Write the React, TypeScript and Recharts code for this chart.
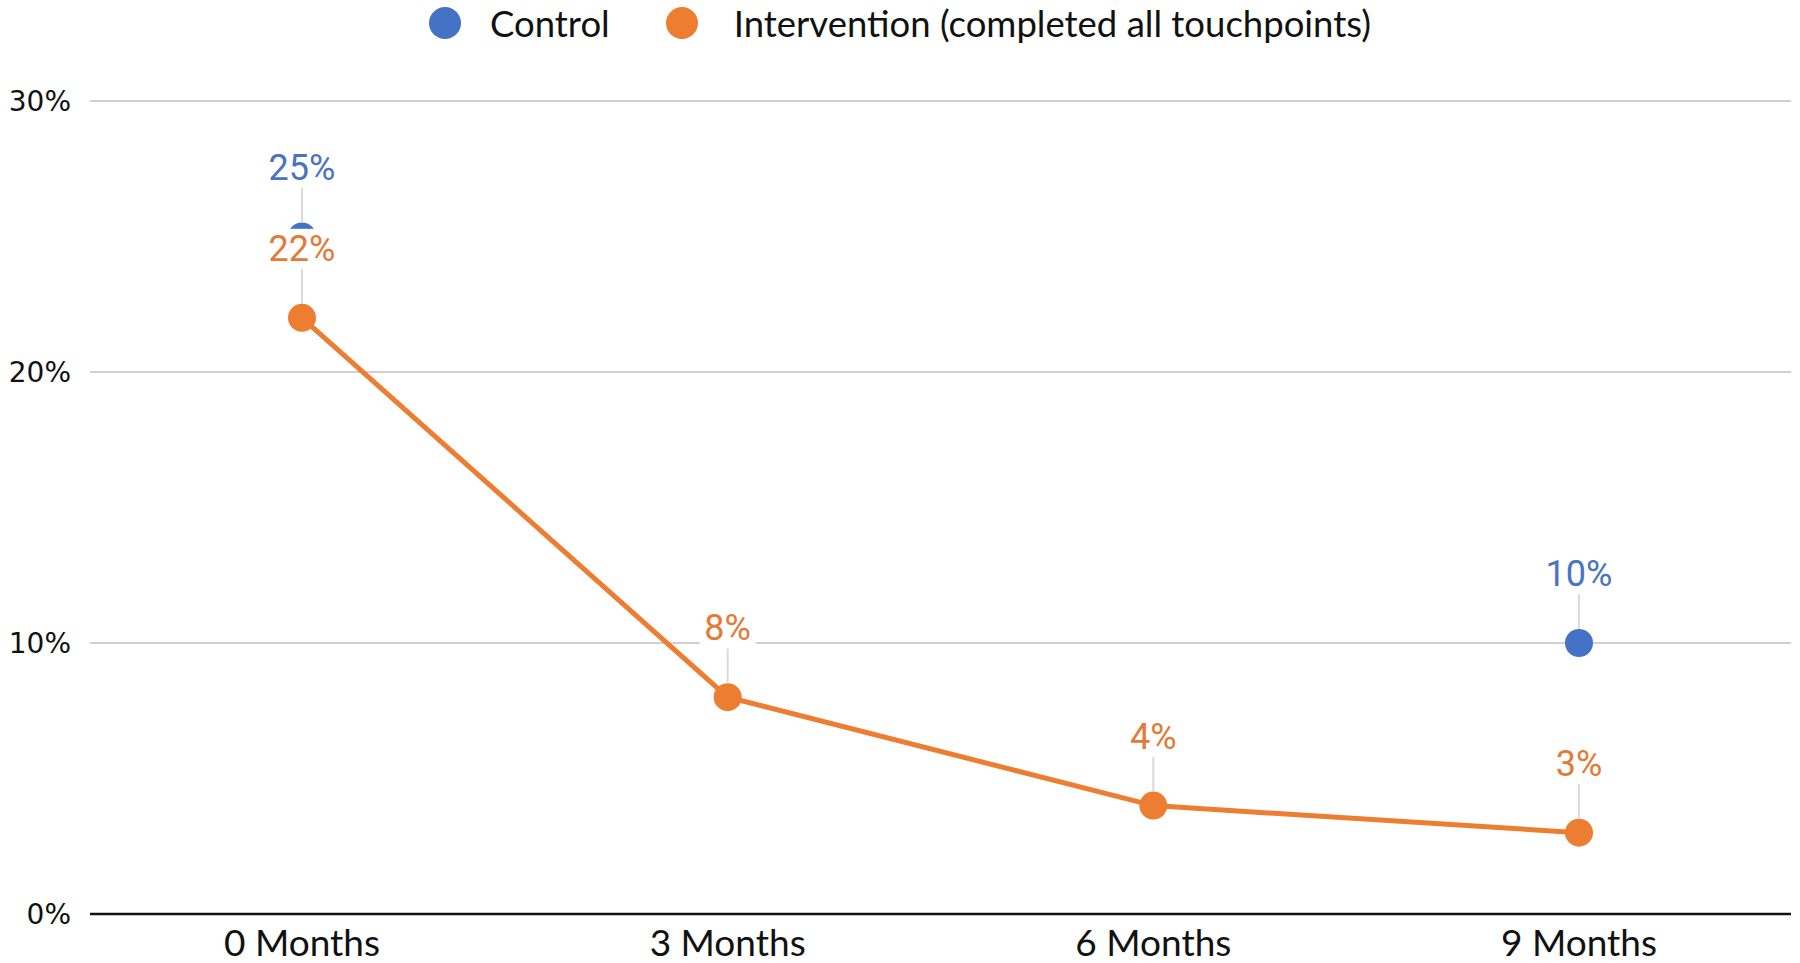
import { LineChart, Line, XAxis, YAxis, CartesianGrid, Legend, LabelList } from 'recharts';

const categories = ['0 Months', '3 Months', '6 Months', '9 Months'];
const controlValues = [25, null, null, 10];
const interventionValues = [22, 8, 4, 3];
const yTicks = [0, 10, 20, 30];

const BLUE = '#4472C4';
const ORANGE = '#ED7D31';

const data = categories.map((c, i) => ({
  month: c,
  control: controlValues[i],
  intervention: interventionValues[i],
}));

const makeLabel = (color: string) => (props: any) => {
  const { x, y, value } = props;
  if (value === null || value === undefined) return null;
  const ly = y - 69;
  const w = String(value).length * 20 + 36;
  return (
    <g>
      <line x1={x} x2={x} y1={ly + 20} y2={y - 14} stroke="#dadada" strokeWidth={2} />
      <rect x={x - w / 2} y={ly - 20} width={w} height={40} fill="#fff" />
      <text x={x} y={ly} textAnchor="middle" dominantBaseline="central" fill={color}
        fontFamily="Roboto, sans-serif" fontSize={36}>{value}%</text>
    </g>
  );
};

const LegendContent = () => (
  <div style={{ display: 'flex', justifyContent: 'center', alignItems: 'center', height: 46, fontFamily: 'Lato, sans-serif', fontSize: 36.5, color: '#111' }}>
    <span style={{ width: 32, height: 32, borderRadius: 16, background: BLUE, display: 'inline-block', marginRight: 29 }} />
    <span style={{ marginRight: 56 }}>Control</span>
    <span style={{ width: 32, height: 32, borderRadius: 16, background: ORANGE, display: 'inline-block', marginRight: 36 }} />
    <span>Intervention (completed all touchpoints)</span>
  </div>
);

export default function App() {
  return (
    <div style={{ position: 'absolute', left: 0, top: 0, background: '#fff' }}>
      <LineChart width={1800} height={963} data={data} margin={{ top: 55, right: 9, left: 0, bottom: 0 }}>
        <Legend verticalAlign="top" height={46} content={<LegendContent />} wrapperStyle={{ top: 0, left: 0, width: 1800 }} />
        <CartesianGrid vertical={false} stroke="#d0d0d0" strokeWidth={2} />
        <XAxis dataKey="month" height={49} padding={{ left: 212, right: 212 }} tickLine={false}
          axisLine={{ stroke: '#111', strokeWidth: 2.5 }} tickMargin={10}
          tick={{ fill: '#111', fontFamily: 'Lato, sans-serif', fontSize: 37 }} />
        <YAxis width={90} domain={[0, 30]} ticks={yTicks} tickFormatter={(v: number) => `${v}%`}
          axisLine={false} tickLine={false} tickMargin={13}
          tick={{ fill: '#111', fontFamily: 'DejaVu Sans, sans-serif', fontSize: 28 }} />
        <Line dataKey="control" stroke="none" strokeWidth={0} isAnimationActive={false}
          dot={{ r: 14, fill: BLUE, stroke: BLUE, strokeWidth: 0 }} activeDot={false}>
          <LabelList dataKey="control" content={makeLabel('#4a73c2')} />
        </Line>
        <Line dataKey="intervention" stroke={ORANGE} strokeWidth={5} isAnimationActive={false}
          dot={{ r: 14, fill: ORANGE, stroke: ORANGE, strokeWidth: 0 }} activeDot={false}>
          <LabelList dataKey="intervention" content={makeLabel('#e27a38')} />
        </Line>
      </LineChart>
    </div>
  );
}
